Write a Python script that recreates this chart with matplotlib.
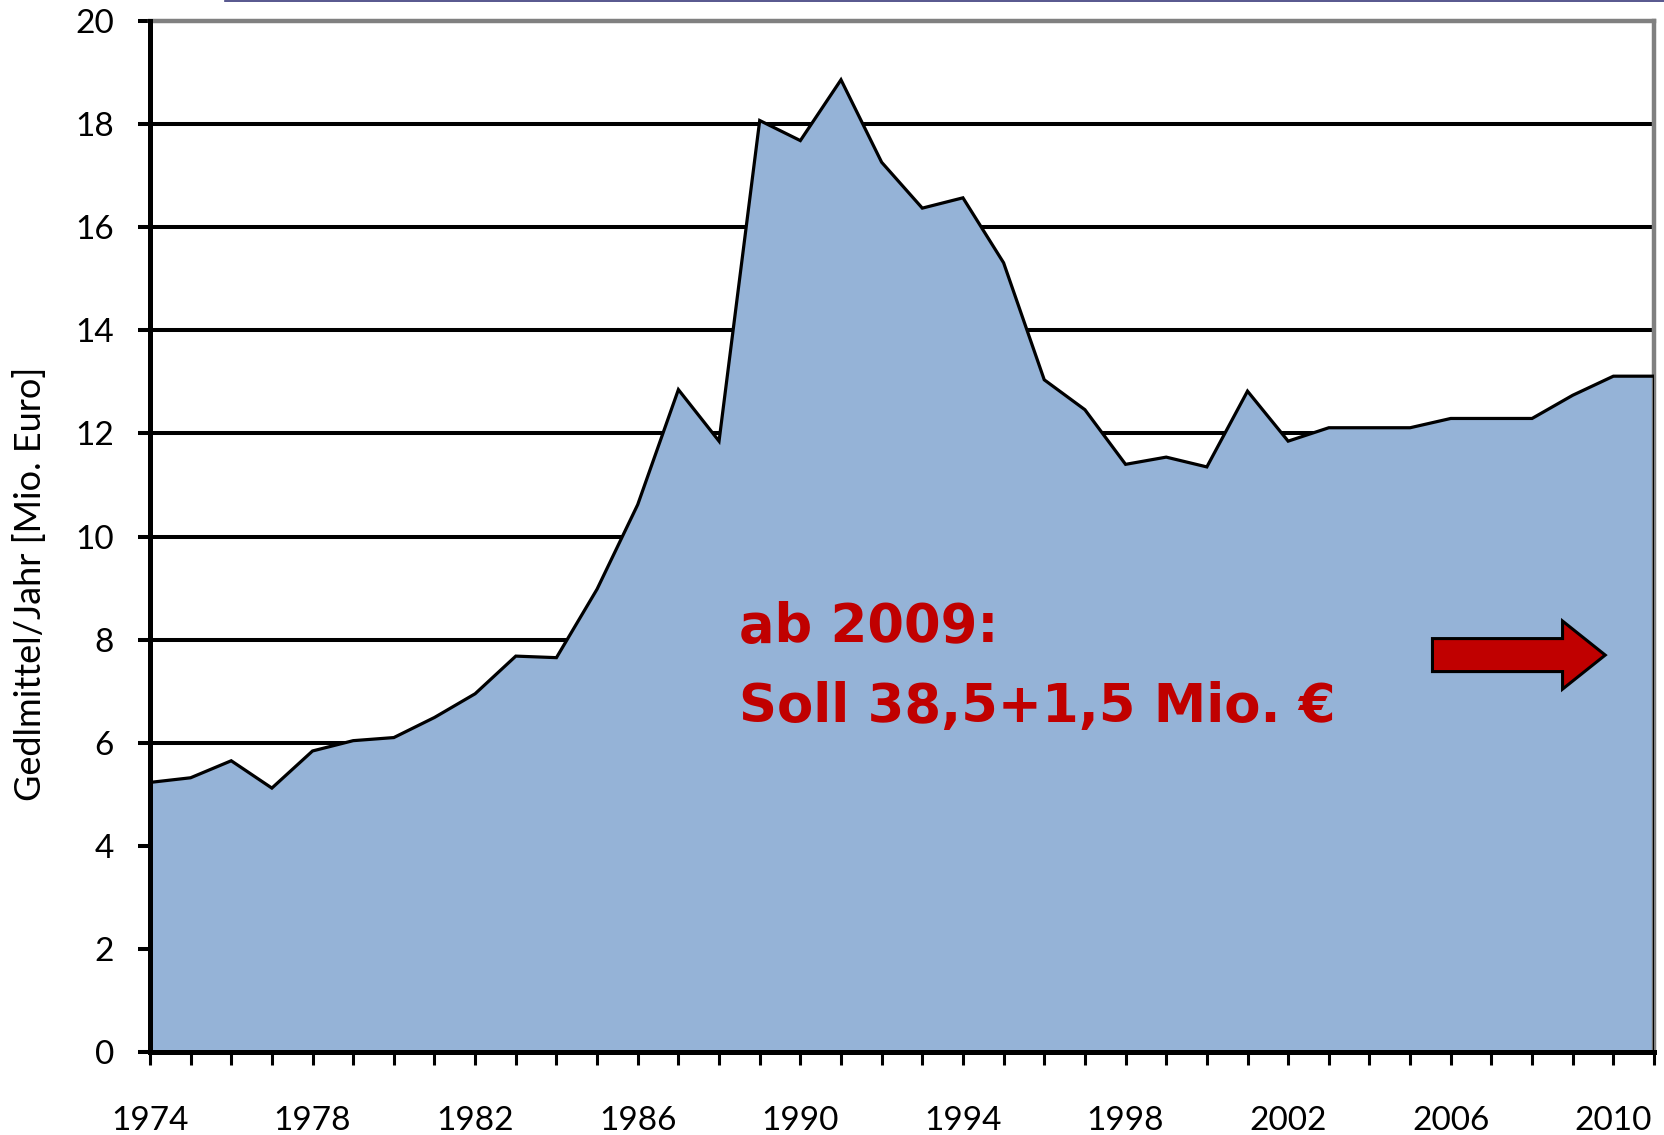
import numpy as np
import matplotlib.pyplot as plt
import matplotlib.patches as mpatches
from matplotlib.ticker import MultipleLocator

# === data ===
years = list(range(1974, 2012))
funds = [5.23, 5.32, 5.65, 5.12, 5.84, 6.04, 6.10, 6.49, 6.95, 7.68,
         7.65, 8.98, 10.62, 12.85, 11.85, 18.07, 17.68, 18.86, 17.26, 16.37,
         16.57, 15.31, 13.04, 12.46, 11.40, 11.54, 11.35, 12.82, 11.85, 12.11,
         12.11, 12.11, 12.29, 12.29, 12.29, 12.74, 13.11, 13.11]
x_labels = [1974, 1978, 1982, 1986, 1990, 1994, 1998, 2002, 2006, 2010]
y_labels = [0, 2, 4, 6, 8, 10, 12, 14, 16, 18, 20]
note_lines = ["ab 2009:", "Soll 38,5+1,5 Mio. €"]

plt.rcParams['font.family'] = ['Lato', 'DejaVu Sans']

fig = plt.figure(figsize=(16.64, 11.35), dpi=100)
ax = fig.add_axes([0.0901, 0.0731, 0.9039, 0.9084])

# gridlines under the area
for v in y_labels[1:-1]:
    ax.axhline(v, color='black', lw=2.9, zorder=1)

ax.fill_between(years, funds, 0, color='#95B3D7', zorder=2, lw=0)
ax.plot(years, funds, color='black', lw=2.3, zorder=3, solid_joinstyle='miter')
ax.plot([years[-1], years[-1]], [0, funds[-1]], color='black', lw=2.3, zorder=3)

ax.set_xlim(years[0], years[-1])
ax.set_ylim(0, 20)
ax.set_xticks(x_labels)
ax.xaxis.set_minor_locator(MultipleLocator(1))
ax.set_yticks(y_labels)
ax.tick_params(axis='x', which='both', direction='out', length=9, width=2.2,
               color='black', labelsize=24, pad=30)
ax.tick_params(axis='y', direction='out', length=9, width=2.9,
               labelsize=24, pad=17)

for s in ['left', 'bottom']:
    ax.spines[s].set_linewidth(3.6)
    ax.spines[s].set_zorder(5)
for s in ['top', 'right']:
    ax.spines[s].set_color('#808080')
    ax.spines[s].set_linewidth(3.2)

# annotation
for i, line in enumerate(note_lines):
    ax.text(1988.5, [7.95, 6.40][i], line, color='#C00000', fontsize=38,
            fontweight='bold', family='DejaVu Sans', va='baseline', zorder=6)
arrow = mpatches.FancyArrow(2005.55, 7.70, 4.25, 0, width=0.64,
                            head_width=1.32, head_length=1.05,
                            length_includes_head=True,
                            facecolor='#C00000', edgecolor='black',
                            lw=2.2, zorder=6)
ax.add_patch(arrow)

fig.text(0.018, 0.4855, "Gedlmittel/Jahr [Mio. Euro]", rotation=90,
         fontsize=26, va='center', ha='center')

# thin slide line at the very top
fig.add_artist(plt.Line2D([0.135, 1.0], [0.9995, 0.9995], color='#3a3a7a', lw=1.2))

fig.savefig("out.png", dpi=100)
